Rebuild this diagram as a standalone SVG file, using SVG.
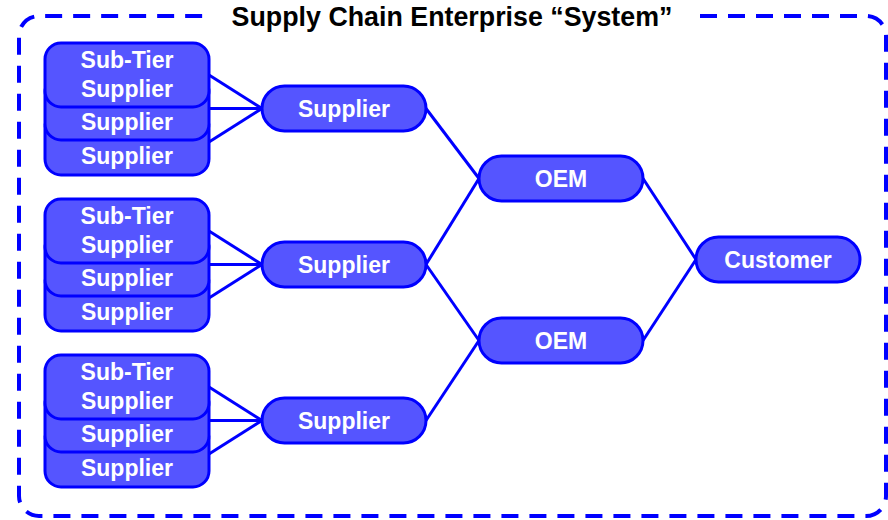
<svg xmlns="http://www.w3.org/2000/svg" width="888" height="520" viewBox="0 0 888 520">
  <style>
    .box { fill: #5555ff; stroke: #0000ff; stroke-width: 3; }
    .lbl { font-family: "Liberation Sans", Arial, sans-serif; font-weight: bold; font-size: 23px; fill: #ffffff; text-anchor: middle; }
    .title { font-family: "Liberation Sans", Arial, sans-serif; font-weight: bold; font-size: 26.8px; fill: #000000; text-anchor: middle; }
    .link { stroke: #0000ff; stroke-width: 3; fill: none; }
    .frame { stroke: #0000ff; stroke-width: 4; fill: none; stroke-dasharray: 17 11; stroke-linecap: butt; }
  </style>

  <!-- enterprise boundary, open at the top for the heading -->
  <path class="frame" d="M700,16 H866 A20,20 0 0 1 886,36 V496 A20,20 0 0 1 866,516 H39 A20,20 0 0 1 19,496 V36 A20,20 0 0 1 39,16 H208"/>
  <text class="title" x="452" y="26">Supply Chain Enterprise “System”</text>

  <!-- connectors -->
  <g id="connectors">
    <line class="link" x1="209" y1="75" x2="262" y2="108.5"/>
    <line class="link" x1="209" y1="108.5" x2="262" y2="108.5"/>
    <line class="link" x1="209" y1="142" x2="262" y2="108.5"/>

    <line class="link" x1="209" y1="231" x2="262" y2="264.5"/>
    <line class="link" x1="209" y1="264.5" x2="262" y2="264.5"/>
    <line class="link" x1="209" y1="298" x2="262" y2="264.5"/>

    <line class="link" x1="209" y1="387" x2="262" y2="420.5"/>
    <line class="link" x1="209" y1="420.5" x2="262" y2="420.5"/>
    <line class="link" x1="209" y1="454" x2="262" y2="420.5"/>

    <line class="link" x1="426" y1="108.5" x2="479" y2="178.5"/>
    <line class="link" x1="426" y1="264.5" x2="479" y2="178.5"/>
    <line class="link" x1="426" y1="264.5" x2="479" y2="340.5"/>
    <line class="link" x1="426" y1="420.5" x2="479" y2="340.5"/>

    <line class="link" x1="643" y1="178.5" x2="696" y2="259.5"/>
    <line class="link" x1="643" y1="340.5" x2="696" y2="259.5"/>
  </g>

  <!-- sub-tier supplier stacks -->
  <g id="subtier-1">
    <rect class="box" x="45" y="111" width="164" height="64" rx="16"/>
    <rect class="box" x="45" y="76" width="164" height="64" rx="16"/>
    <rect class="box" x="45" y="43" width="164" height="64" rx="16"/>
    <text class="lbl" x="127" y="68">Sub-Tier</text>
    <text class="lbl" x="127" y="97">Supplier</text>
    <text class="lbl" x="127" y="130">Supplier</text>
    <text class="lbl" x="127" y="164">Supplier</text>
  </g>
  <g id="subtier-2" transform="translate(0,156)">
    <rect class="box" x="45" y="111" width="164" height="64" rx="16"/>
    <rect class="box" x="45" y="76" width="164" height="64" rx="16"/>
    <rect class="box" x="45" y="43" width="164" height="64" rx="16"/>
    <text class="lbl" x="127" y="68">Sub-Tier</text>
    <text class="lbl" x="127" y="97">Supplier</text>
    <text class="lbl" x="127" y="130">Supplier</text>
    <text class="lbl" x="127" y="164">Supplier</text>
  </g>
  <g id="subtier-3" transform="translate(0,312)">
    <rect class="box" x="45" y="111" width="164" height="64" rx="16"/>
    <rect class="box" x="45" y="76" width="164" height="64" rx="16"/>
    <rect class="box" x="45" y="43" width="164" height="64" rx="16"/>
    <text class="lbl" x="127" y="68">Sub-Tier</text>
    <text class="lbl" x="127" y="97">Supplier</text>
    <text class="lbl" x="127" y="130">Supplier</text>
    <text class="lbl" x="127" y="164">Supplier</text>
  </g>

  <!-- suppliers -->
  <g id="supplier-1">
    <rect class="box" x="262" y="86" width="164" height="45" rx="22.5"/>
    <text class="lbl" x="344" y="116.5">Supplier</text>
  </g>
  <g id="supplier-2">
    <rect class="box" x="262" y="242" width="164" height="45" rx="22.5"/>
    <text class="lbl" x="344" y="272.5">Supplier</text>
  </g>
  <g id="supplier-3">
    <rect class="box" x="262" y="398" width="164" height="45" rx="22.5"/>
    <text class="lbl" x="344" y="428.5">Supplier</text>
  </g>

  <!-- OEMs -->
  <g id="oem-1">
    <rect class="box" x="479" y="156" width="164" height="45" rx="22.5"/>
    <text class="lbl" x="561" y="186.5">OEM</text>
  </g>
  <g id="oem-2">
    <rect class="box" x="479" y="318" width="164" height="45" rx="22.5"/>
    <text class="lbl" x="561" y="348.5">OEM</text>
  </g>

  <!-- customer -->
  <g id="customer">
    <rect class="box" x="696" y="237" width="164" height="45" rx="22.5"/>
    <text class="lbl" x="778" y="267.5">Customer</text>
  </g>
</svg>
